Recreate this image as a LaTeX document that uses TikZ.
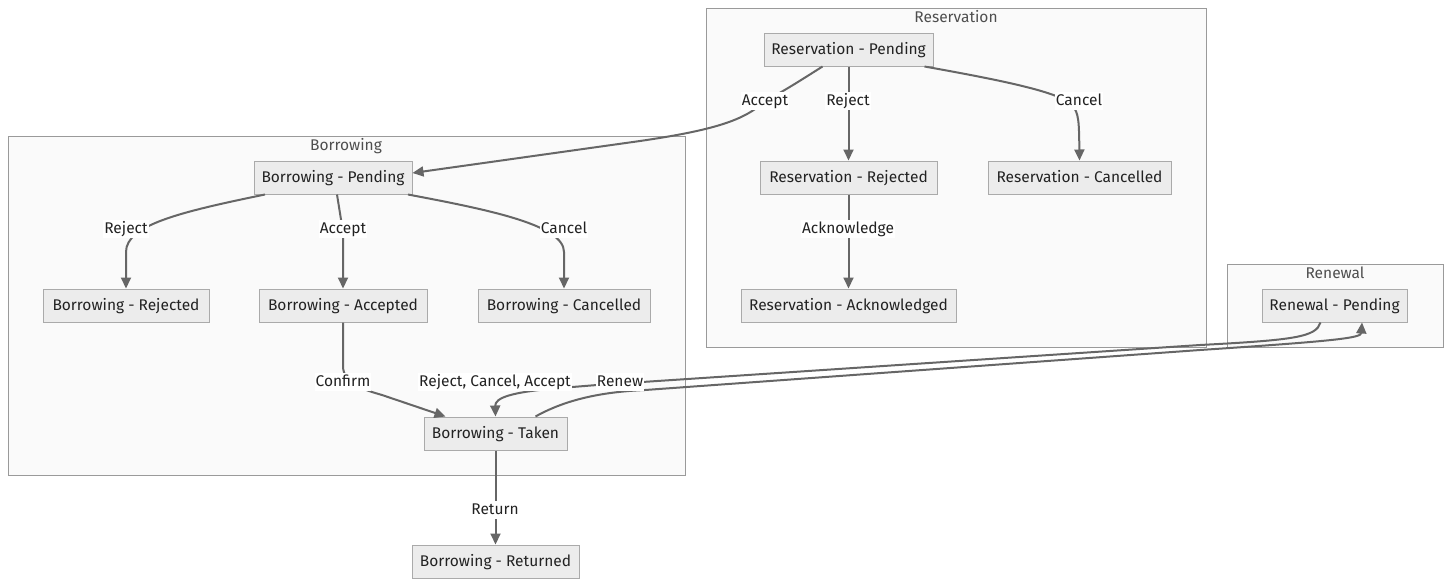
\documentclass[tikz,border=0pt]{standalone}
\usepackage{fontspec}
\setmainfont{Fira Sans}
\usetikzlibrary{arrows.meta}
\definecolor{nodefill}{HTML}{ECECEC}
\definecolor{nodedraw}{HTML}{AAAAAA}
\definecolor{clfill}{HTML}{FAFAFA}
\definecolor{cldraw}{HTML}{9A9A9A}
\definecolor{edgec}{HTML}{666666}
\definecolor{txt}{HTML}{222222}
\begin{document}
\begin{tikzpicture}[x=1pt,y=-1pt,
  every node/.style={font=\fontsize{15.5}{17}\selectfont, text=txt, text height=12pt, text depth=1.2pt},
  state/.style={draw=nodedraw, fill=nodefill, line width=1pt, inner sep=0pt, minimum height=33pt},
  cluster/.style={draw=cldraw, fill=clfill, line width=1pt},
  cltitle/.style={text=txt!80!white, inner sep=0pt},
  edge/.style={draw=edgec, line width=2pt, -{Triangle[length=11pt,width=10pt]}},
  elabel/.style={fill=white, inner sep=1pt, text depth=3.5pt},
]
\useasboundingbox (0,0) rectangle (1451,587);
% clusters
\draw[cluster] (706,8) rectangle (1206,347);
\node[cltitle] (tres) at (956,17) {Reservation};
\draw[cluster] (8,136) rectangle (685,475);
\node[cltitle] (tbor) at (346,145) {Borrowing};
\draw[cluster] (1227,264) rectangle (1443,347);
\node[cltitle] (tren) at (1335,273) {Renewal};

% nodes
\node[state, minimum width=169pt] (rp) at (848.5,49.5) {Reservation - Pending};
\node[state, minimum width=177pt] (rr) at (848.5,177.5) {Reservation - Rejected};
\node[state, minimum width=183pt] (rc) at (1079.5,177.5) {Reservation - Cancelled};
\node[state, minimum width=215pt] (ra) at (848.5,305.5) {Reservation - Acknowledged};
\node[state, minimum width=158pt] (bp) at (333,177.5) {Borrowing - Pending};
\node[state, minimum width=166pt] (br) at (126,305.5) {Borrowing - Rejected};
\node[state, minimum width=168pt] (ba) at (343,305.5) {Borrowing - Accepted};
\node[state, minimum width=172pt] (bc) at (564,305.5) {Borrowing - Cancelled};
\node[state, minimum width=143pt] (bt) at (495.5,433.5) {Borrowing - Taken};
\node[state, minimum width=167pt] (bret) at (495.5,561.5) {Borrowing - Returned};
\node[state, minimum width=145pt] (rnp) at (1334.5,305.5) {Renewal - Pending};

% edges
\path[edge] ([xshift=-26pt]rp.south) .. controls (795,84) and (782,92) .. (765,101)
   .. controls (745,120) and (715,130) .. (640,141) -- ([yshift=4.5pt]bp.east);
\path[edge] (rp.south) -- (rr.north);
\path[edge] ([xshift=76pt]rp.south) .. controls (1000,80) and (1060,92) .. (1072,105)
   .. controls (1079,113) and (1079,122) .. (rc.north);
\path[edge] (rr.south) -- (ra.north);
\path[edge] ([xshift=-68pt]bp.south) .. controls (180,212) and (126,225) .. (126,252) -- (br.north);
\path[edge] ([xshift=4pt]bp.south) -- (343,232) -- (ba.north);
\path[edge] ([xshift=75pt]bp.south) .. controls (490,210) and (564,225) .. (564,252) -- (bc.north);
\path[edge] (ba.south) -- (343,366) .. controls (343,384) and (365,390) .. (382,395) -- ([xshift=-50pt]bt.north);
\path[edge] (bt.south) -- (bret.north);
\path[edge] ([xshift=-14pt]rnp.south) .. controls (1316,337) and (1295,340) .. (1200,345)
   -- (597,385) -- (560,388) .. controls (510,392) and (495,398) .. (bt.north);
\path[edge] ([xshift=40pt]bt.north) .. controls (565,400) and (600,392) .. (645,390)
   -- (1200,350) .. controls (1335,341) and (1361,338) .. ([xshift=27.5pt]rnp.south);

% edge labels
\node[elabel] (l1) at (765,101) {Accept};
\node[elabel] (l2) at (848,101) {Reject};
\node[elabel] (l3) at (1079,101) {Cancel};
\node[elabel] (l4) at (848,229) {Acknowledge};
\node[elabel] (l5) at (126,229) {Reject};
\node[elabel] (l6) at (343,229) {Accept};
\node[elabel] (l7) at (564,229) {Cancel};
\node[elabel] (l8) at (343,382) {Confirm};
\node[elabel] (l9) at (495,382) {Reject, Cancel, Accept};
\node[elabel] (l10) at (620,382) {Renew};
\node[elabel] (l11) at (495,510) {Return};
\end{tikzpicture}
\end{document}
